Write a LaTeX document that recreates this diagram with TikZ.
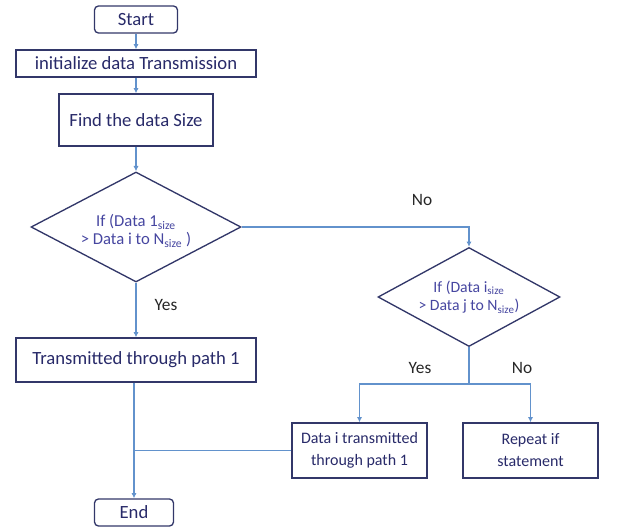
\documentclass[tikz,border=0pt]{standalone}
\usepackage{fontspec}
\setmainfont{Carlito}
\usetikzlibrary{shapes.geometric,arrows.meta}
\definecolor{boxline}{RGB}{50,55,105}
\definecolor{boxtext}{RGB}{40,42,105}
\definecolor{condtext}{RGB}{70,70,160}
\definecolor{flowline}{RGB}{98,146,204}

\begin{document}
\begin{tikzpicture}[x=0.75pt,y=0.75pt,yscale=-1,xscale=1,
  term/.style={draw=boxline,line width=1pt,rounded corners=3pt,text=boxtext,inner sep=0pt,font=\fontsize{14}{16}\selectfont},
  proc/.style={draw=boxline,line width=1pt,text=boxtext,inner sep=0pt,align=center,font=\fontsize{14}{16}\selectfont},
  cond/.style={draw=boxline,line width=1pt,shape=diamond,text=condtext,inner sep=0pt,align=center},
  lbl/.style={text=black!85,inner sep=0pt,font=\fontsize{13}{15}\selectfont},
  flow/.style={draw=flowline,line width=0.8pt},
  arr/.style={flow,-{Latex[length=4pt,width=4pt]}}]
\useasboundingbox (0,0) rectangle (637,529);

% Terminals
\node [term,minimum width=62.25pt,minimum height=20.25pt] (start) at (136,19.5) {Start};
\node [term,minimum width=59.25pt,minimum height=20.25pt] (end) at (134,512.5) {End};

% Process boxes
\node [proc,minimum width=180pt,minimum height=20.25pt] (init) at (136,63.5) {initialize data Transmission};
\node [proc,minimum width=115.5pt,minimum height=39pt] (size) at (136,120) {Find the data Size};
\node [proc,minimum width=180pt,minimum height=33pt] (path) at (136,360) {Transmitted through path 1};
\node [proc,minimum width=101.25pt,minimum height=41.25pt,font=\fontsize{12}{16.5}\selectfont] (datai) at (359.5,450.5) {Data i transmitted\\through path 1};
\node [proc,minimum width=101.25pt,minimum height=41.25pt,font=\fontsize{12}{16.5}\selectfont] (repeat) at (530.5,450.5) {Repeat if\\statement};

% Decisions
\node [cond,minimum width=157.5pt,minimum height=82.5pt,shape aspect=1.9,font=\fontsize{12.5}{13.5}\selectfont] (first) at (136,227) {\rule{0pt}{15pt}If (Data 1\textsubscript{size}\\> Data i to N\textsubscript{size} )};
\node [cond,minimum width=136.5pt,minimum height=74.25pt,shape aspect=1.84,font=\fontsize{11.8}{14}\selectfont] (second) at (469,297) {If (Data i\textsubscript{size}\\> Data j to N\textsubscript{size})};

% Labels
\node [lbl] (yesa) at (166,305) {Yes};
\node [lbl] (noa) at (422,200) {No};
\node [lbl] (yesb) at (420,368) {Yes};
\node [lbl] (nob) at (522,368) {No};

\coordinate (split) at (469,384);
\coordinate (join) at (134,450.5);

% Connectors
\draw [arr] (start) -- (init);
\draw [arr] (init) -- (size);
\draw [arr] (size) -- (first);
\draw [arr] (first) -- (path);
\draw [arr] (first.east) -- (first.east -| second.north) -- (second.north);
\draw [flow] (second.south) -- (split);
\draw [arr] (split) -| (datai.north);
\draw [arr] (split) -| (repeat.north);
\draw [arr] (path.south -| end.north) -- (end.north);
\draw [flow] (datai.west) -- (join);

\end{tikzpicture}
\end{document}
